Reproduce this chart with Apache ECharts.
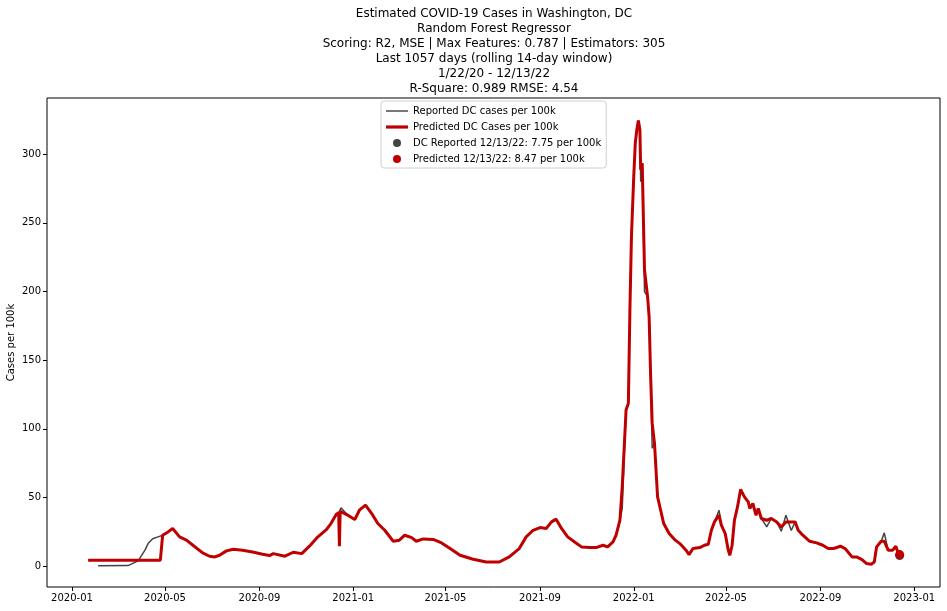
<!DOCTYPE html>
<html>
<head>
<meta charset="utf-8">
<script src="https://cdn.jsdelivr.net/npm/echarts@6/dist/echarts.min.js"></script>
<style>
  html, body { margin: 0; padding: 0; background: #fff; }
  #plot { width: 947px; height: 611px; }
</style>
</head>
<body>
<div id="plot"></div>
<script>
// dates (irregular sampling)
var dates = [
  '2020-01-22','2020-02-04','2020-03-14','2020-03-27','2020-04-05','2020-04-09','2020-04-15','2020-04-22','2020-04-25','2020-04-28',
  '2020-05-05','2020-05-11','2020-05-20','2020-05-29','2020-06-08','2020-06-19','2020-06-28','2020-07-05','2020-07-11','2020-07-20',
  '2020-07-29','2020-08-10','2020-08-23','2020-09-05','2020-09-14','2020-09-19','2020-10-04','2020-10-15','2020-10-26','2020-11-05',
  '2020-11-16','2020-11-27','2020-12-03','2020-12-10','2020-12-13','2020-12-14','2020-12-15','2020-12-16','2020-12-25','2021-01-03',
  '2021-01-09','2021-01-17','2021-01-25','2021-02-02','2021-02-11','2021-02-22','2021-03-02','2021-03-09','2021-03-18','2021-03-24',
  '2021-04-02','2021-04-15','2021-04-26','2021-05-07','2021-05-20','2021-06-06','2021-06-23','2021-07-10','2021-07-23','2021-08-05',
  '2021-08-14','2021-08-23','2021-09-01','2021-09-09','2021-09-16','2021-09-22','2021-09-29','2021-10-07','2021-10-16','2021-10-25',
  '2021-11-05','2021-11-13','2021-11-22','2021-11-28','2021-12-05','2021-12-09','2021-12-14','2021-12-17','2021-12-22','2021-12-25',
  '2021-12-27','2021-12-29','2021-12-30','2022-01-01','2022-01-03','2022-01-05','2022-01-07','2022-01-09','2022-01-10','2022-01-12',
  '2022-01-13','2022-01-15','2022-01-19','2022-01-21','2022-01-23','2022-01-25','2022-01-28','2022-02-01','2022-02-05','2022-02-09',
  '2022-02-16','2022-02-24','2022-03-02','2022-03-10','2022-03-14','2022-03-19','2022-03-28','2022-04-03','2022-04-08','2022-04-12',
  '2022-04-16','2022-04-22','2022-04-25','2022-04-30','2022-05-04','2022-05-06','2022-05-09','2022-05-12','2022-05-16','2022-05-20',
  '2022-05-22','2022-05-25','2022-05-30','2022-06-01','2022-06-05','2022-06-09','2022-06-12','2022-06-16','2022-06-23','2022-06-29',
  '2022-07-06','2022-07-12','2022-07-18','2022-07-25','2022-07-30','2022-08-03','2022-08-09','2022-08-18','2022-08-27','2022-09-04',
  '2022-09-11','2022-09-18','2022-09-27','2022-10-03','2022-10-12','2022-10-18','2022-10-25','2022-10-31','2022-11-06','2022-11-10',
  '2022-11-13','2022-11-19','2022-11-23','2022-11-28','2022-12-04','2022-12-08','2022-12-11','2022-12-13'
];

// predicted cases per 100k (red)
var predicted = [
  4.4,null,null,null,null,null,null,null,4.4,22.6,
  25,27.5,21.4,19,14.6,9.7,7.3,6.8,8,11.2,
  12.4,11.7,10.4,8.7,7.8,9.2,7.3,10.2,9.2,14.6,
  21.4,26.7,31.1,37.9,39,14.6,40,39.6,37.2,34,
  40.8,44.5,38.4,31.1,26.2,18.2,19,22.6,20.9,18.2,
  19.9,19.5,17,12.9,8,5.1,3.1,3.1,6.8,12.9,
  21.4,26.2,28.2,27.5,32.3,34.3,27.5,21.4,17.7,14.1,
  13.6,13.6,15.3,14.1,17.7,22.6,33.5,57.8,113.7,118.6,
  186.6,240,254.6,283.7,308,317.8,324.5,317.8,288.6,293.5,
  294.7,215.7,196.3,181.7,138,104,89.4,50.5,40.8,31.1,
  23.8,19,16.5,11.7,8.5,12.9,13.6,15.3,16,26.2,
  32.3,37.2,29.9,23.8,11.7,8,15.3,33.5,43.2,55.9,
  55.9,50.5,46.9,42.1,45.7,37.2,42.1,34.8,33.5,34.8,
  32.3,28.6,32.3,32.3,32.3,26.2,22.6,18.2,17,15.3,
  12.9,12.9,14.6,12.9,6.8,6.8,4.9,2.0,1.5,3.1,
  14.1,18.2,18.2,11.7,11.7,14.6,9.7,8.47
];

// reported cases per 100k (gray, 14-day rolling)
var reported = [
  null,0.3,0.5,3.9,11.7,16.5,20,21.4,null,22.6,
  25,27.5,21.4,19,14.6,9.7,7.3,6.8,8,11.2,
  12.4,11.7,10.4,8.7,7.8,9.2,7.3,10.2,9.2,14.6,
  21.4,26.7,31.1,37.9,39,40,41,42.5,37.2,34,
  40.8,44.5,38.4,31.1,26.2,18.2,19,22.6,20.9,18.2,
  19.9,19.5,17,12.9,8,5.1,3.1,3.1,6.8,12.9,
  21.4,26.2,28.2,27.5,32.3,34.3,27.5,21.4,17.7,14.1,
  13.6,13.6,15.3,14.1,17.7,22.6,33.5,42,113.7,118.6,
  186.6,240,254.6,283.7,308,317.8,324.5,317.8,280,293.5,
  294.7,200,196.3,181.7,138,86,89.4,50.5,40.8,31.1,
  23.8,19,16.5,11.7,8.5,12.9,13.6,15.3,16,26.2,
  32.3,40.8,29.9,23.8,11.7,8,15.3,33.5,43.2,55.9,
  55.9,50.5,46.9,42.1,45.7,37.2,42.1,34.8,28.6,34.8,
  32.3,25.5,37.2,26,32.3,26.2,22.6,18.2,17,15.3,
  12.9,12.9,14.6,12.9,6.8,6.8,4.9,2.0,1.5,3.1,
  14.1,18.2,24.3,11.7,11.7,14.6,9.7,7.75
];

var lastDate = '2022-12-13';
var lastReported = 7.75;
var lastPredicted = 8.47;

var xTickLabels = ['2020-01','2020-05','2020-09','2021-01','2021-05','2021-09','2022-01','2022-05','2022-09','2023-01'];
var yTicks = [0, 50, 100, 150, 200, 250, 300];

var titleLines = [
  'Estimated COVID-19 Cases in Washington, DC',
  'Random Forest Regressor',
  'Scoring: R2, MSE | Max Features: 0.787 | Estimators: 305',
  'Last 1057 days (rolling 14-day window)',
  '1/22/20 - 12/13/22',
  'R-Square: 0.989 RMSE: 4.54'
];

// date string -> timestamp (local time)
function ts(s) {
  var p = s.split('-');
  return +new Date(+p[0], +p[1] - 1, p[2] ? +p[2] : 1, p[3] ? +p[3] : 0);
}

var xTickValues = xTickLabels.map(ts);

var myChart = echarts.init(document.getElementById('plot'));

var font = 'DejaVu Sans';

var option = {
  backgroundColor: '#fff',
  animation: false,
  textStyle: { fontFamily: font },
  title: {
    text: titleLines.join('\n'),
    left: 489,
    top: 1,
    textAlign: 'center',
    textStyle: { fontFamily: font, fontSize: 12, fontWeight: 'normal', color: '#000', lineHeight: 15 }
  },
  legend: {
    orient: 'vertical',
    left: 381,
    top: 101,
    padding: [4, 5, 3, 5],
    itemGap: 4,
    itemWidth: 22,
    itemHeight: 8,
    borderColor: '#d0d0d0',
    borderWidth: 1,
    borderRadius: 3,
    backgroundColor: '#fff',
    textStyle: { fontFamily: font, fontSize: 10, color: '#000', lineHeight: 12 },
    data: [
      { name: 'Reported DC cases per 100k', icon: 'path://M0,0 L22,0 L22,1.6 L0,1.6 Z', itemStyle: { color: '#555' } },
      { name: 'Predicted DC Cases per 100k', icon: 'path://M0,0 L22,0 L22,3.2 L0,3.2 Z', itemStyle: { color: '#bf0000' } },
      { name: 'DC Reported 12/13/22: 7.75 per 100k', icon: 'circle' },
      { name: 'Predicted 12/13/22: 8.47 per 100k', icon: 'circle' }
    ]
  },
  grid: {
    left: 47, right: 7, top: 98, bottom: 24,
    outerBoundsMode: 'none',
    containLabel: false,
    show: true, borderColor: '#000', borderWidth: 1, backgroundColor: '#fff'
  },
  xAxis: {
    type: 'value',
    min: ts('2019-11-29-12'),
    max: ts('2023-02-03-12'),
    axisLine: { show: false, onZero: false },
    splitLine: { show: false },
    axisTick: { show: true, length: 4, lineStyle: { color: '#000' }, customValues: xTickValues },
    axisLabel: {
      color: '#000', fontSize: 10, fontFamily: font, margin: 6,
      customValues: xTickValues,
      formatter: function (v) { return echarts.time.format(v, '{yyyy}-{MM}', false); }
    }
  },
  yAxis: {
    type: 'value',
    min: -15.1,
    max: 340.9,
    name: 'Cases per 100k',
    nameLocation: 'middle',
    nameGap: 31,
    nameMoveOverlap: false,
    nameTextStyle: { color: '#000', fontSize: 10, fontFamily: font },
    axisLine: { show: false, onZero: false },
    splitLine: { show: false },
    axisTick: { show: true, length: 4, lineStyle: { color: '#000' }, customValues: yTicks },
    axisLabel: { color: '#000', fontSize: 10, fontFamily: font, margin: 6, customValues: yTicks }
  },
  series: [
    {
      name: 'Reported DC cases per 100k',
      type: 'line',
      data: dates.map(function (d, i) { return [ts(d), reported[i]]; }),
      showSymbol: false,
      symbol: 'none',
      connectNulls: true,
      color: '#444',
      lineStyle: { color: '#444', width: 1.5 },
      z: 2
    },
    {
      name: 'Predicted DC Cases per 100k',
      type: 'line',
      data: dates.map(function (d, i) { return [ts(d), predicted[i]]; }),
      showSymbol: false,
      symbol: 'none',
      connectNulls: true,
      color: '#bf0000',
      lineStyle: { color: '#bf0000', width: 3 },
      z: 3
    },
    {
      name: 'DC Reported 12/13/22: 7.75 per 100k',
      type: 'scatter',
      data: [[ts(lastDate), lastReported]],
      symbolSize: 9,
      itemStyle: { color: '#444', opacity: 1 },
      z: 4
    },
    {
      name: 'Predicted 12/13/22: 8.47 per 100k',
      type: 'scatter',
      data: [[ts(lastDate), lastPredicted]],
      symbolSize: 9,
      itemStyle: { color: '#c00000', opacity: 1 },
      z: 5
    }
  ]
};

myChart.setOption(option);
</script>
</body>
</html>
